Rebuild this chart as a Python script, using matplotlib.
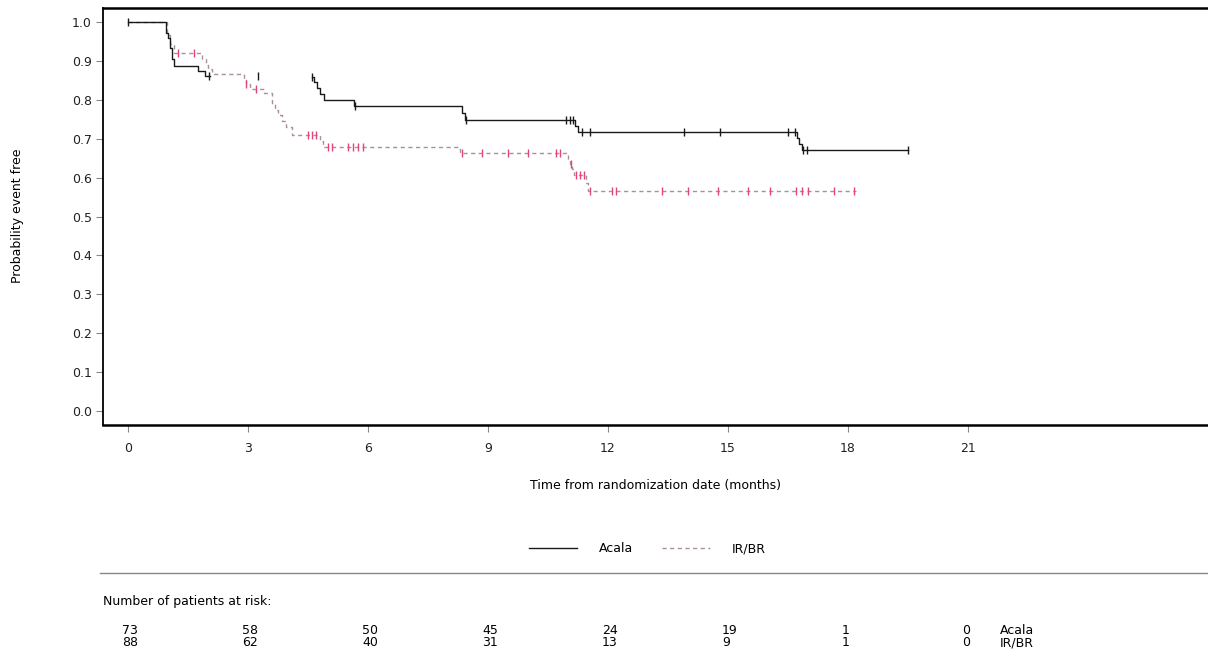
import matplotlib
matplotlib.use("Agg")
import matplotlib.pyplot as plt
import matplotlib.transforms as mtransforms
from matplotlib.lines import Line2D
import numpy as np
import pandas as pd

# Kaplan-Meier steps (nan = part of the line missing in the original)
acala_t = [0, 0.95, 1.0, 1.05, 1.1, 1.15, 1.75, 1.92, 2.05, 4.6, 4.65, 4.72, 4.8, 4.9,
           5.65, 8.36, 8.42, 11.18, 11.25, 16.72, 16.78, 16.84, 19.5]
acala_s = [1.0, 0.973, 0.959, 0.932, 0.904, 0.886, 0.874, 0.862, np.nan, 0.859, 0.845,
           0.830, 0.815, 0.800, 0.783, 0.766, 0.749, 0.733, 0.718, 0.702, 0.686, 0.672, 0.672]
acala_cens = [0.0, 2.02, 3.25, 4.6, 5.68, 8.45, 10.95, 11.05, 11.12, 11.35, 11.55,
              13.9, 14.8, 16.5, 16.68, 16.88, 16.98, 19.5]

irbr_t = [0, 0.98, 1.05, 1.15, 1.85, 1.95, 2.0, 2.1, 2.9, 2.95, 3.05, 3.4, 3.6, 3.68,
          3.75, 3.85, 3.95, 4.1, 4.8, 4.88, 8.3, 11.0, 11.05, 11.1, 11.15, 11.45, 11.5, 18.2]
irbr_s = [1.0, 0.966, 0.943, 0.920, 0.905, 0.890, 0.878, 0.866, 0.852, 0.840, 0.828,
          0.817, 0.790, 0.775, 0.760, 0.745, 0.730, 0.710, 0.695, 0.678, 0.664, 0.648,
          0.635, 0.621, 0.607, 0.586, 0.566, 0.566]
irbr_cens = [1.25, 1.65, 2.95, 3.2, 4.5, 4.6, 4.7, 5.0, 5.1, 5.5, 5.62, 5.75, 5.88,
             8.35, 8.85, 9.5, 10.0, 10.7, 10.8, 11.08, 11.2, 11.3, 11.4, 11.55, 12.1,
             12.2, 13.35, 14.0, 14.75, 15.5, 16.05, 16.7, 16.85, 17.0, 17.65, 18.15]

risk_times = [0, 3, 6, 9, 12, 15, 18, 21]
risk_acala = [73, 58, 50, 45, 24, 19, 1, 0]
risk_irbr = [88, 62, 40, 31, 13, 9, 1, 0]

plt.rcParams['font.family'] = ['DejaVu Sans']
fs = 9

W, H = 1208, 657
fig = plt.figure(figsize=(W / 100, H / 100), dpi=100)
ax = fig.add_axes([103 / W, 1 - 425 / H, 1 - 103 / W, (425 - 8) / H])

def surv_at(t, times, surv):
    s = pd.Series(surv).ffill().values
    i = np.searchsorted(times, t, side='right') - 1
    return s[i]

ac_col = '#1a1a1a'
ir_col = '#a8929a'
ir_mark = '#e2457a'

ax.step(acala_t, acala_s, where='post', color=ac_col, lw=1.0, zorder=3)
ax.step(irbr_t, irbr_s, where='post', color=ir_col, lw=1.0, ls=(0, (3, 2.5)), zorder=2)
ax.plot(acala_cens, [surv_at(t, acala_t, acala_s) for t in acala_cens], ls='none',
        marker='|', ms=6, mew=1.0, color=ac_col, zorder=4)
ax.plot(irbr_cens, [surv_at(t, irbr_t, irbr_s) for t in irbr_cens], ls='none',
        marker='|', ms=6, mew=1.0, color=ir_mark, zorder=3)

ax.set_xlim(-0.625, 27)
ax.set_ylim(-0.036, 1.036)
ax.set_xticks(risk_times)
ax.set_yticks(np.arange(0, 1.01, 0.1))
ax.set_yticklabels([f"{v:.1f}" for v in np.arange(0, 1.01, 0.1)])
ax.tick_params(axis='both', direction='out', length=5, width=0.8, color='#888888',
               labelcolor='#222222', labelsize=fs)
ax.tick_params(axis='x', pad=7)
ax.tick_params(axis='y', pad=3)
ax.spines['right'].set_visible(False)
for sp in ['top', 'bottom']:
    ax.spines[sp].set_linewidth(1.8)
ax.spines['left'].set_linewidth(1.3)

ax.set_xlabel("Time from randomization date (months)", fontsize=fs, va='center')
ax.xaxis.set_label_coords(655 / W, 1 - 486 / H, transform=fig.transFigure)
ax.set_ylabel("Probability event free", fontsize=fs, va='center')
ax.yaxis.set_label_coords(18 / W, 1 - 216 / H, transform=fig.transFigure)

handles = [Line2D([], [], color=ac_col, lw=1.0),
           Line2D([], [], color=ir_col, lw=1.0, ls=(0, (3, 2.5)))]
ax.legend(handles, ["Acala", "IR/BR"], loc='center', ncol=2, frameon=False,
          bbox_to_anchor=(647 / W, 1 - 549 / H), bbox_transform=fig.transFigure,
          handlelength=3.9, handletextpad=1.7, columnspacing=2.3, fontsize=fs)

fig.add_artist(Line2D([100 / W, 1], [1 - 573 / H] * 2, transform=fig.transFigure,
                      color='#888888', lw=1.0))
fig.text(103 / W, 1 - 601 / H, "Number of patients at risk:", fontsize=fs,
         va='center', ha='left')

tr = mtransforms.blended_transform_factory(ax.transData, fig.transFigure)
for t, a, b in zip(risk_times, risk_acala, risk_irbr):
    fig.text(t - 0.15, 1 - 631 / H, str(a), transform=tr, fontsize=fs, va='center', ha='left')
    fig.text(t - 0.15, 1 - 643 / H, str(b), transform=tr, fontsize=fs, va='center', ha='left')
fig.text(21.8, 1 - 631 / H, "Acala", transform=tr, fontsize=fs, va='center', ha='left')
fig.text(21.8, 1 - 643 / H, "IR/BR", transform=tr, fontsize=fs, va='center', ha='left')

fig.savefig("out.png", dpi=100, facecolor='white')
